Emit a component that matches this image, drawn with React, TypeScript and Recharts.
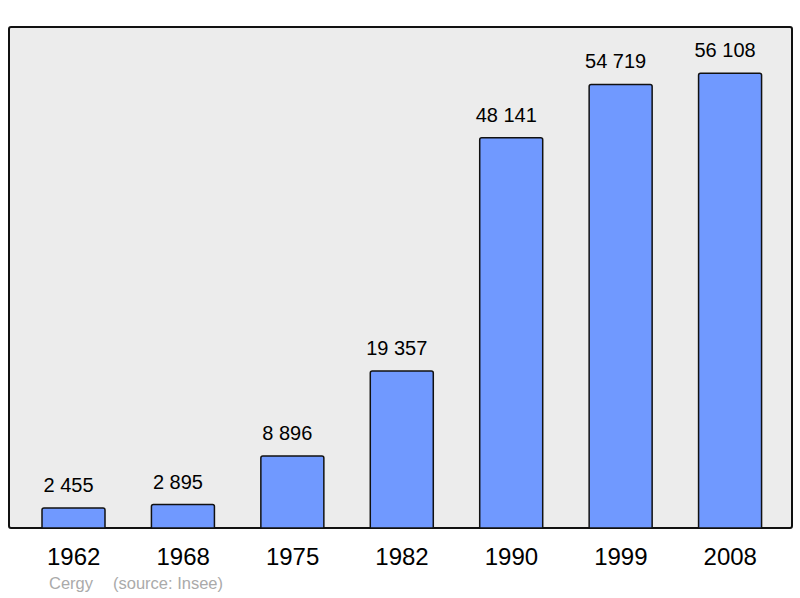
import React from "react";
import { BarChart, Bar, XAxis, YAxis, LabelList } from "recharts";

const years = ["1962", "1968", "1975", "1982", "1990", "1999", "2008"];
const population = [2455, 2895, 8896, 19357, 48141, 54719, 56108];
const caption = ["Cergy", "(source: Insee)"];

const data = years.map((y, i) => ({ year: y, pop: population[i] }));

const fmt = (v: any) => String(v).replace(/\B(?=(\d{3})+(?!\d))/g, " ");

const FONT = "'Liberation Sans', Arial, sans-serif";

const ValueLabel = (props: any) => {
  const { x, y, width, value } = props;
  return (
    <text
      x={Number(x) + Number(width) / 2 - 5}
      y={Number(y) - 16}
      textAnchor="middle"
      fontSize={20}
      fill="#000"
      fontFamily={FONT}
    >
      {fmt(value)}
    </text>
  );
};

export default function App() {
  return (
    <div style={{ position: "absolute", left: 0, top: 0, width: 800, height: 598, fontFamily: FONT }}>
      <div
        style={{
          position: "absolute",
          left: 8,
          top: 26,
          width: 785,
          height: 503,
          boxSizing: "border-box",
          border: "2px solid #111",
          borderRadius: 3,
          background: "#ececec",
        }}
      />
      <div style={{ position: "absolute", left: 0, top: 0 }}>
        <BarChart
          width={800}
          height={598}
          data={data}
          margin={{ top: 27, right: 15, bottom: 40, left: 19 }}
        >
          <XAxis
            dataKey="year"
            axisLine={false}
            tickLine={false}
            tickMargin={14}
            height={30}
            tick={{ fontSize: 24, fill: "#000", fontFamily: FONT }}
          />
          <YAxis hide domain={[0, 61800]} />
          <Bar
            dataKey="pop"
            fill="#7099ff"
            stroke="#111"
            strokeWidth={1.5}
            barSize={63}
            radius={[2, 2, 0, 0]}
            isAnimationActive={false}
          >
            <LabelList dataKey="pop" content={ValueLabel} />
          </Bar>
        </BarChart>
      </div>
      <div
        style={{
          position: "absolute",
          left: 49,
          top: 573,
          fontSize: 16.5,
          color: "#aaaaaa",
          whiteSpace: "pre",
          lineHeight: "20px",
        }}
      >
        {caption[0]}
      </div>
      <div
        style={{
          position: "absolute",
          left: 113,
          top: 573,
          fontSize: 16.5,
          color: "#aaaaaa",
          whiteSpace: "pre",
          lineHeight: "20px",
        }}
      >
        {caption[1]}
      </div>
    </div>
  );
}
